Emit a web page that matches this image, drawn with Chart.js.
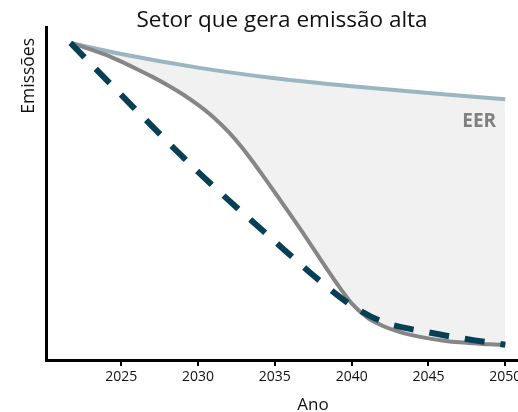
<!DOCTYPE html>
<html>
<head>
<meta charset="utf-8">
<script src="https://cdn.jsdelivr.net/npm/chart.js@4.4.1/dist/chart.umd.min.js"></script>
<style>
  html, body { margin: 0; padding: 0; background: #fff; overflow: hidden; }
  #wrap { width: 530px; height: 412px; }
</style>
</head>
<body>
<div id="wrap"><canvas id="chartEmissoes" width="530" height="412"></canvas></div>
<script>
// tick labels on the year axis
const ANOS_TICKS = [2025, 2030, 2035, 2040, 2045, 2050];

// linha de referência (sem ação)
const REF_ANOS = [2021.7, 2025, 2030, 2035, 2040, 2045, 2050];
const REF_VALORES = [95.2, 91.9, 87.8, 84.6, 82.2, 80.2, 78.3];

// trajetória do setor (curva cinza)
const SETOR_ANOS = [2021.7, 2023, 2024, 2025, 2026, 2027, 2028, 2029, 2030, 2031, 2032,
  2033, 2034, 2035, 2036, 2037, 2038, 2039, 2040, 2041, 2042, 2043, 2044, 2045, 2046,
  2047, 2048, 2049, 2050];
const SETOR_VALORES = [95.2, 93.3, 91.6, 89.6, 87.4, 85.1, 82.6, 79.8, 76.6, 72.9, 68.4,
  63.0, 56.8, 50.3, 43.7, 37.0, 30.0, 23.2, 17.0, 12.8, 10.3, 8.6, 7.4, 6.5, 5.8,
  5.3, 5.0, 4.7, 4.5];

// trajetória linear (tracejada)
const LINEAR_ANOS = [2021.7, 2025, 2030, 2035, 2038, 2040, 2042, 2045, 2048, 2050];
const LINEAR_VALORES = [95.2, 79.6, 56.5, 35.6, 23.5, 16.4, 11.5, 8.3, 5.9, 4.6];

const ROTULO_EER = { text: 'EER', x: 2048.3, y: 71.6 };

const FONTE = '"Open Sans", Lato, sans-serif';

const toPoints = (xs, ys) => xs.map((x, i) => ({ x, y: ys[i] }));

// titles and the EER tag are drawn by hand so they can sit where the original has them
const textos = {
  id: 'textos',
  afterDatasetsDraw(chart) {
    const { ctx, scales } = chart;
    ctx.save();
    ctx.fillStyle = '#808080';
    ctx.font = `bold 19px ${FONTE}`;
    ctx.textAlign = 'center';
    ctx.textBaseline = 'middle';
    ctx.fillText(ROTULO_EER.text, scales.x.getPixelForValue(ROTULO_EER.x), scales.y.getPixelForValue(ROTULO_EER.y));
    ctx.restore();
  },
  afterDraw(chart) {
    const { ctx, chartArea } = chart;
    ctx.save();
    ctx.fillStyle = '#111';
    ctx.textAlign = 'center';
    ctx.textBaseline = 'alphabetic';
    ctx.font = `22.5px ${FONTE}`;
    ctx.fillText('Setor que gera emissão alta', 282, 27);
    ctx.font = `17px ${FONTE}`;
    ctx.fillText('Ano', 313, 410);

    ctx.translate(29, chartArea.top + 11);
    ctx.rotate(-Math.PI / 2);
    ctx.font = `17.5px ${FONTE}`;
    ctx.textAlign = 'right';
    ctx.textBaseline = 'middle';
    ctx.fillText('Emissões', 0, 0);
    ctx.restore();
  },
};

const canvas = document.getElementById('chartEmissoes');

new Chart(canvas.getContext('2d'), {
  type: 'line',
  data: {
    datasets: [
      {
        label: 'Linear',
        data: toPoints(LINEAR_ANOS, LINEAR_VALORES),
        borderColor: '#073f54',
        borderWidth: 6,
        borderDash: [20, 16],
        pointRadius: 0,
        cubicInterpolationMode: 'monotone',
        fill: false,
      },
      {
        label: 'Setor',
        data: toPoints(SETOR_ANOS, SETOR_VALORES),
        borderColor: '#868686',
        borderWidth: 4,
        pointRadius: 0,
        cubicInterpolationMode: 'monotone',
        fill: false,
      },
      {
        label: 'Referência',
        data: toPoints(REF_ANOS, REF_VALORES),
        borderColor: '#9ab6c1',
        borderWidth: 4,
        pointRadius: 0,
        cubicInterpolationMode: 'monotone',
        fill: '-1',
        backgroundColor: '#f1f1f1',
      },
    ],
  },
  options: {
    responsive: false,
    animation: false,
    layout: {
      padding: { left: 46, right: 6.3, top: 27, bottom: 23.2 },
    },
    plugins: {
      legend: { display: false },
      tooltip: { enabled: false },
      filler: { drawTime: 'beforeDatasetsDraw' },
      title: { display: false },
    },
    scales: {
      x: {
        type: 'linear',
        min: 2020.1,
        max: 2051.2,
        afterBuildTicks(scale) {
          scale.ticks = ANOS_TICKS.map((v) => ({ value: v }));
        },
        ticks: {
          color: '#111',
          font: { family: FONTE, size: 14 },
          padding: 3,
          maxRotation: 0,
          callback: (v) => String(v),
        },
        grid: {
          display: true,
          drawOnChartArea: false,
          drawTicks: true,
          tickLength: 6,
          color: '#000',
          lineWidth: 2,
        },
        border: { display: true, color: '#000', width: 3 },
        title: { display: false },
      },
      y: {
        min: 0,
        max: 100,
        ticks: { display: false },
        grid: { display: true, drawOnChartArea: false, drawTicks: false },
        border: { display: true, color: '#000', width: 3 },
        title: { display: false },
      },
    },
  },
  plugins: [textos],
});
</script>
</body>
</html>
